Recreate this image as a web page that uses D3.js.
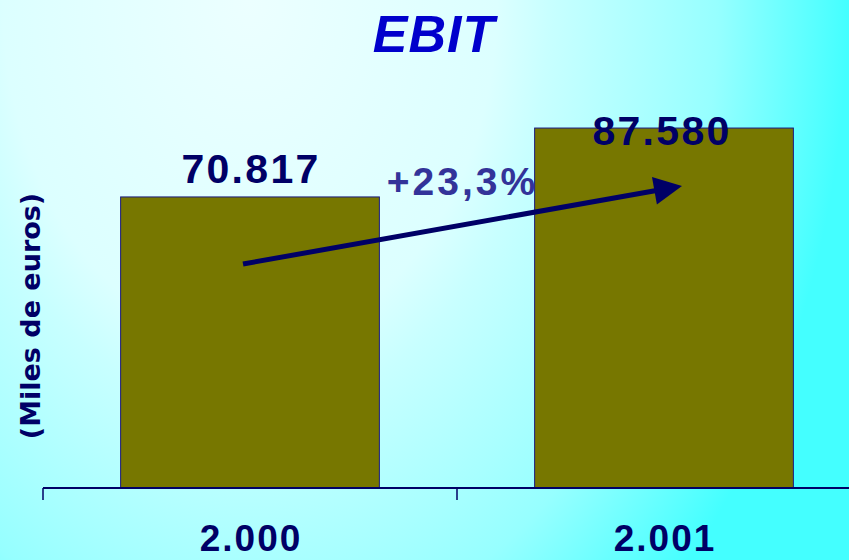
<!DOCTYPE html>
<html>
<head>
<meta charset="utf-8">
<script src="https://cdn.jsdelivr.net/npm/d3@7"></script>
<style>
  html, body { margin: 0; padding: 0; overflow: hidden; }
  svg { display: block; }
</style>
</head>
<body>
<script>
// ---- data ----
const categories = ["2.000", "2.001"];
const values = [70817, 87580];
const valueLabels = ["70.817", "87.580"];
const chartTitle = "EBIT";
const yAxisTitle = "(Miles de euros)";
const growthLabel = "+23,3%";
// arrow annotation endpoints in data space (category index, value)
const arrowFrom = [0, 54500];
const arrowTo = [1, 73500];

const W = 849, H = 560;
const navy = "#000066";

const svg = d3.select("body").append("svg")
  .attr("width", W).attr("height", H);

// background gradient
const defs = svg.append("defs");
const grad = defs.append("radialGradient")
  .attr("id", "bg")
  .attr("gradientUnits", "userSpaceOnUse")
  .attr("cx", 0).attr("cy", 0).attr("r", 1)
  .attr("gradientTransform", "translate(250,0) scale(650,900)");
[[0, "#ecffff"], [0.38, "#dcffff"], [0.46, "#c8ffff"], [0.63, "#a8ffff"],
 [0.72, "#96ffff"], [0.92, "#44ffff"], [1, "#44ffff"]]
  .forEach(([o, c]) => grad.append("stop").attr("offset", o).attr("stop-color", c));
svg.append("rect").attr("width", W).attr("height", H).attr("fill", "url(#bg)");

// scales
const x = d3.scaleBand().domain(categories).range([43, 871]).padding(0);
const y = d3.scaleLinear().domain([0, 100000]).range([488, 77]);
const barW = x.bandwidth() * 0.625;
const cx = c => x(c) + x.bandwidth() / 2;

// bars
svg.selectAll("rect.bar").data(values).join("rect")
  .attr("class", "bar")
  .attr("x", (d, i) => cx(categories[i]) - barW / 2)
  .attr("y", d => y(d))
  .attr("width", barW)
  .attr("height", d => y(0) - y(d))
  .attr("fill", "#777700")
  .attr("stroke", "#1a1a80")
  .attr("stroke-width", 1);

// axis
const axisG = svg.append("g");
axisG.append("line")
  .attr("x1", x.range()[0]).attr("x2", W)
  .attr("y1", y(0)).attr("y2", y(0))
  .attr("stroke", navy).attr("stroke-width", 2.2);
axisG.selectAll("line.tick").data(categories).join("line")
  .attr("class", "tick")
  .attr("x1", d => x(d)).attr("x2", d => x(d))
  .attr("y1", y(0)).attr("y2", y(0) + 12)
  .attr("stroke", navy).attr("stroke-width", 1.5);
axisG.selectAll("text.cat").data(categories).join("text")
  .attr("class", "cat")
  .attr("x", d => cx(d) + 1)
  .attr("y", 551)
  .attr("text-anchor", "middle")
  .attr("font-family", "Liberation Sans, Arial, sans-serif")
  .attr("font-weight", "bold")
  .attr("font-size", 37)
  .style("letter-spacing", "2px")
  .attr("fill", navy)
  .text(d => d);

// value labels
const labelOffsets = [-14, 17];
svg.selectAll("text.val").data(values).join("text")
  .attr("class", "val")
  .attr("x", (d, i) => cx(categories[i]) + (i === 0 ? 1 : -2))
  .attr("y", (d, i) => y(d) + labelOffsets[i])
  .attr("text-anchor", "middle")
  .attr("font-family", "Liberation Sans, Arial, sans-serif")
  .attr("font-weight", "bold")
  .attr("font-size", 41)
  .style("letter-spacing", "2.3px")
  .attr("fill", navy)
  .text((d, i) => valueLabels[i]);

// arrow
const x0 = cx(categories[arrowFrom[0]]) - 7, y0 = y(arrowFrom[1]);
const x1 = cx(categories[arrowTo[0]]) + 18, y1 = y(arrowTo[1]);
const ang = Math.atan2(y1 - y0, x1 - x0);
const headL = 28, headW = 14;
const bx = x1 - headL * Math.cos(ang), by = y1 - headL * Math.sin(ang);
svg.append("line")
  .attr("x1", x0).attr("y1", y0).attr("x2", bx + 2 * Math.cos(ang)).attr("y2", by + 2 * Math.sin(ang))
  .attr("stroke", navy).attr("stroke-width", 5);
svg.append("polygon")
  .attr("points", [
    [x1, y1],
    [bx + headW * Math.sin(ang), by - headW * Math.cos(ang)],
    [bx - headW * Math.sin(ang), by + headW * Math.cos(ang)]
  ].map(p => p.join(",")).join(" "))
  .attr("fill", navy);

// growth label
svg.append("text")
  .attr("x", (x0 + x1) / 2)
  .attr("y", (y0 + y1) / 2 - 30)
  .attr("text-anchor", "middle")
  .attr("font-family", "Liberation Sans, Arial, sans-serif")
  .attr("font-weight", "bold")
  .attr("font-size", 39)
  .style("letter-spacing", "3px")
  .attr("fill", "#333399")
  .text(growthLabel);

// title
svg.append("text")
  .attr("x", 434).attr("y", 52)
  .attr("text-anchor", "middle")
  .attr("font-family", "Liberation Sans, Arial, sans-serif")
  .attr("font-weight", "bold")
  .attr("font-style", "italic")
  .attr("font-size", 52)
  .style("letter-spacing", "1px")
  .attr("fill", "#0000cc")
  .text(chartTitle);

// y axis title
svg.append("text")
  .attr("transform", "translate(40,316) rotate(-90)")
  .attr("text-anchor", "middle")
  .attr("font-family", "DejaVu Sans, Verdana, sans-serif")
  .attr("font-weight", "bold")
  .attr("font-size", 27)
  .attr("fill", navy)
  .text(yAxisTitle);
</script>
</body>
</html>
